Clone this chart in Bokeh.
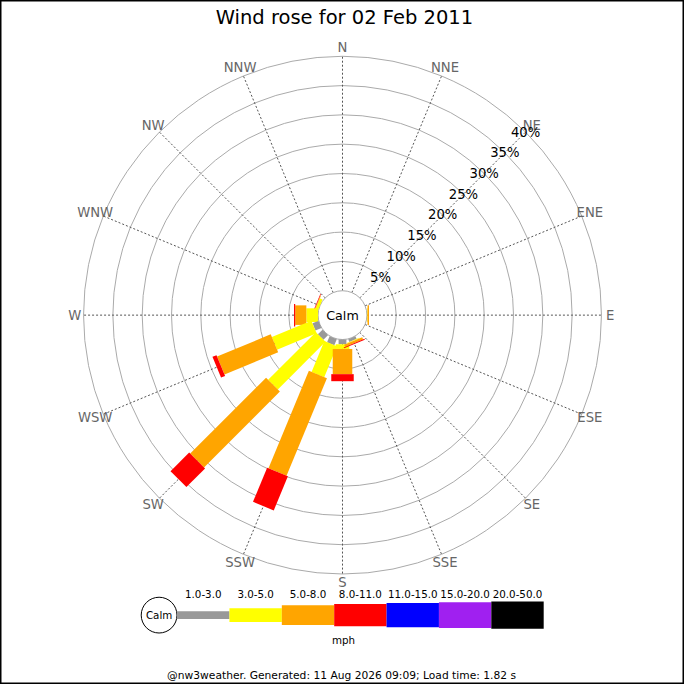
import numpy as np
from bokeh.plotting import figure
from bokeh.models import Range1d, ColumnDataSource
from bokeh.core.properties import value
from bokeh.embed import file_html
from bokeh.resources import INLINE

# ---------------- data ----------------
title_text = "Wind rose for 02 Feb 2011"
footer_text = "@nw3weather. Generated: 11 Aug 2026 09:09; Load time: 1.82 s"
directions = ["N", "NNE", "NE", "ENE", "E", "ESE", "SE", "SSE",
              "S", "SSW", "SW", "WSW", "W", "WNW", "NW", "NNW"]
speed_bins = ["1.0-3.0", "3.0-5.0", "5.0-8.0", "8.0-11.0",
              "11.0-15.0", "15.0-20.0", "20.0-50.0"]
speed_unit = "mph"
ring_values = [5, 10, 15, 20, 25, 30, 35, 40]
calm_label = "Calm"

# frequency (%) per direction, one list per speed bin (order of `directions`)
freq_1_3   = [0, 0, 0, 0, 0,    0, 0, 0.5,  0.8, 1.1,  1.1,  1.1,  0,   0,   0, 0]
freq_3_5   = [0, 0, 0, 0, 0.1,  0, 0, 0.1,  0.8, 5.7,  11.5, 7.3,  2.0, 0.5, 0, 0]
freq_5_8   = [0, 0, 0, 0, 0.25, 0, 0, 0.4,  4.3, 18.0, 18.3, 9.9,  1.9, 0.1, 0, 0]
freq_8_11  = [0, 0, 0, 0, 0,    0, 0, 0.15, 1.2, 6.3,  4.5,  0.75, 0.2, 0.1, 0, 0]
freq_11_15 = [0] * 16
freq_15_20 = [0] * 16
freq_20_50 = [0] * 16
freqs = [freq_1_3, freq_3_5, freq_5_8, freq_8_11, freq_11_15, freq_15_20, freq_20_50]

# ---------------- styles ----------------
bin_colors = ["#999999", "#ffff00", "#ffa500", "#ff0000", "#0000ff", "#a020f0", "#000000"]
bin_widths_px = [8, 14, 20, 23, 25, 26.5, 28]
FONT = value("DejaVu Sans")
W = H = 684
S = W / 700.0          # canvas px per reference px
PX = 6.0               # reference px per 1 %
R0 = 25 / PX           # calm circle radius (in %)
CX, CY = 350, 322      # reference centre


def X(px):
    return (px - CX) / PX


def Y(py):
    return (CY - py) / PX


def fs(px):
    return f"{px * S:.1f}px"


p = figure(width=W, height=H, output_backend="svg", toolbar_location=None,
           x_range=Range1d(X(0), X(700)), y_range=Range1d(Y(700), Y(0)),
           x_axis_location=None, y_axis_location=None, min_border=0)
p.grid.visible = False
p.background_fill_color = "white"
p.border_fill_color = "white"
p.outline_line_color = "black"
p.outline_line_width = 2

# rings
ring_r = [R0 + v for v in ring_values]
p.circle(x=[0] * len(ring_r), y=[0] * len(ring_r), radius=ring_r,
         fill_color=None, line_color="#aaaaaa", line_width=1)

# radial lines
ang = np.deg2rad(90 - np.arange(16) * 22.5)
rmax = R0 + ring_values[-1]
p.segment(x0=R0 * np.cos(ang), y0=R0 * np.sin(ang),
          x1=rmax * np.cos(ang), y1=rmax * np.sin(ang),
          line_color="#555555", line_width=1, line_dash="2 2")

# calm circle
p.circle(x=[0], y=[0], radius=[R0], fill_color="white", line_color="#aaaaaa", line_width=1)

# bars
bx, by, bw, bh, ba, bc = [], [], [], [], [], []
for i in reversed(range(len(directions))):
    a = ang[i]
    r = R0
    for j, series in enumerate(freqs):
        v = series[i]
        if v <= 0:
            continue
        rc = r + v / 2
        bx.append(rc * np.cos(a)); by.append(rc * np.sin(a))
        bw.append(v); bh.append(bin_widths_px[j] / PX)
        ba.append(a); bc.append(bin_colors[j])
        r += v
p.rect(x="x", y="y", width="w", height="h", angle="a", fill_color="c",
       line_color=None,
       source=ColumnDataSource(dict(x=bx, y=by, w=bw, h=bh, a=ba, c=bc)))

# direction labels
rl = 274 / PX
p.text(x=rl * np.cos(ang), y=rl * np.sin(ang), text=directions,
       text_font=FONT, text_font_size=fs(13.5), text_color="#666666",
       text_align="center", text_baseline="middle")

# ring labels along NE
a45 = np.deg2rad(45)
p.text(x=[r * np.cos(a45) for r in ring_r], y=[r * np.sin(a45) for r in ring_r],
       text=[f"{v}%" for v in ring_values], text_font=FONT, text_font_size=fs(13.5),
       text_color="black", text_align="center", text_baseline="middle")

p.text(x=[0], y=[0], text=[calm_label], text_font=FONT, text_font_size=fs(13),
       text_color="black", text_align="center", text_baseline="middle")

# title
p.text(x=[X(352)], y=[Y(17)], text=[title_text], text_font=FONT, text_font_size=fs(20),
       text_color="black", text_align="center", text_baseline="middle")

# legend
leg_cy = 629
p.circle(x=[X(162.3)], y=[Y(leg_cy)], radius=[18.3 / PX], fill_color="white",
         line_color="black", line_width=1)
p.text(x=[X(162.3)], y=[Y(leg_cy)], text=[calm_label], text_font=FONT,
       text_font_size=fs(10.5), text_color="black", text_align="center",
       text_baseline="middle")
seg_w = 53.6
left0 = 180.7
lx = [X(left0 + seg_w * (k + 0.5)) for k in range(len(speed_bins))]
p.rect(x=lx, y=[Y(leg_cy)] * len(lx), width=[seg_w / PX] * len(lx),
       height=[h / PX for h in bin_widths_px], fill_color=bin_colors, line_color=None)
p.text(x=lx, y=[Y(607)] * len(lx), text=speed_bins, text_font=FONT,
       text_font_size=fs(10.5), text_color="black", text_align="center",
       text_baseline="middle")
p.text(x=[X(351)], y=[Y(654)], text=[speed_unit], text_font=FONT,
       text_font_size=fs(10.5), text_color="black", text_align="center",
       text_baseline="middle")

# footer
p.text(x=[X(349)], y=[Y(691)], text=[footer_text], text_font=FONT,
       text_font_size=fs(11), text_color="black", text_align="center",
       text_baseline="middle")

open("out.html", "w").write(file_html(p, INLINE))
